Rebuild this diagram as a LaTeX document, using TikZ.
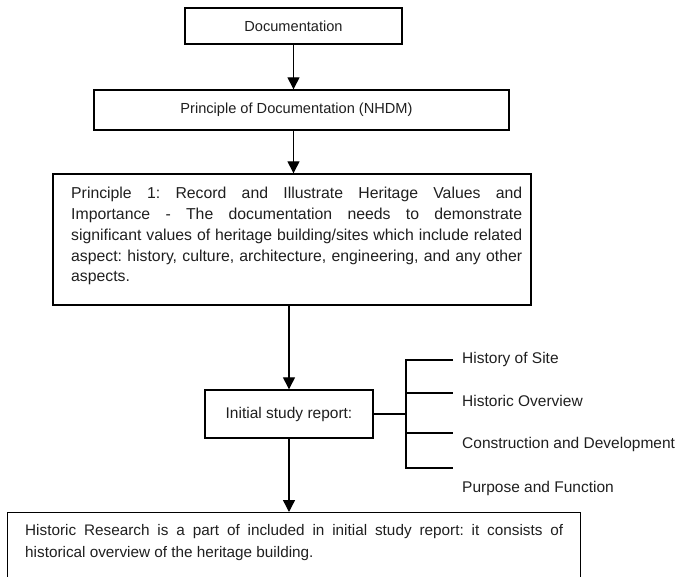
\documentclass[tikz,border=0pt]{standalone}
\usepackage{fontspec}
\setmainfont{Liberation Sans}
\usetikzlibrary{arrows.meta}
\tolerance=10000
\hbadness=10000
\frenchspacing
\begin{document}
\begin{tikzpicture}[x=1pt,y=-1pt,
  box/.style={draw,line width=1.4pt,inner sep=0pt},
  arr/.style={line width=1.4pt,-{Triangle[length=12pt,width=12pt]}},
  ln/.style={line width=1.4pt},
  para/.style={anchor=north west,inner sep=0pt,align=justify,text=black!88},
  lbl/.style={anchor=base west,inner sep=0pt,text=black!88,font=\fontsize{15.5}{18}\selectfont}]
\useasboundingbox (0,0) rectangle (678,577);
\clip (0,0) rectangle (678,577);
% boxes
\node[box,minimum width=217pt,minimum height=36pt,text=black!88,font=\fontsize{14.6}{17}\selectfont] (box1) at (293.5,26) {Documentation};
\node[box,minimum width=415pt,minimum height=40pt,text=black!88,font=\fontsize{14.6}{17}\selectfont] (box2) at (301.5,110) {Principle of Documentation (NHDM)\hspace*{10pt}};
\node[box,minimum width=478pt,minimum height=131pt] (box3) at (292,239.5) {};
\node[para,text width=451pt,font=\fontsize{15.8}{20.8}\selectfont] (p3text) at (71,187) {Principle 1: Record and Illustrate Heritage Values and\linebreak Importance - The documentation needs to demonstrate\linebreak significant values of heritage building/sites which include related\linebreak aspect: history, culture, architecture, engineering, and any other\linebreak aspects.};
\node[box,minimum width=168pt,minimum height=48pt,text=black!88,font=\fontsize{15.5}{18}\selectfont] (box4) at (289,414) {Initial study report:};
\node[box,anchor=north west,minimum width=573pt,minimum height=100pt] (box5) at (7,512) {};
\node[para,text width=538pt,font=\fontsize{15.3}{22}\selectfont] (p5text) at (25,524.5) {Historic Research is a part of included in initial study report: it consists of\linebreak historical overview of the heritage building.};
% labels
\node[lbl] (l1) at (462,363.6) {History of Site};
\node[lbl] (l2) at (462,406.6) {Historic Overview};
\node[lbl] (l3) at (462,448.6) {Construction and Development};
\node[lbl] (l4) at (462,492.6) {Purpose and Function};
% bracket coordinates
\coordinate (b1) at (406,360);
\coordinate (b2) at (406,393);
\coordinate (b3) at (406,433);
\coordinate (b4) at (406,468);
\coordinate (e1) at (453,360);
\coordinate (e2) at (453,393);
\coordinate (e3) at (453,433);
\coordinate (e4) at (453,468);
% connectors
\draw[arr] (box1.south) -- (box1.south |- box2.north);
\draw[arr] (box1.south |- box2.south) -- (box1.south |- box3.north);
\draw[arr] (box3.south -| box4.north) -- (box4.north);
\draw[arr] (box4.south) -- (box4.south |- box5.north);
\draw[ln] (box4.east) -- (box4.east -| b1);
\draw[ln] (e1) -- (b1) -- (b4) -- (e4);
\draw[ln] (b2) -- (e2);
\draw[ln] (b3) -- (e3);
\end{tikzpicture}
\end{document}
